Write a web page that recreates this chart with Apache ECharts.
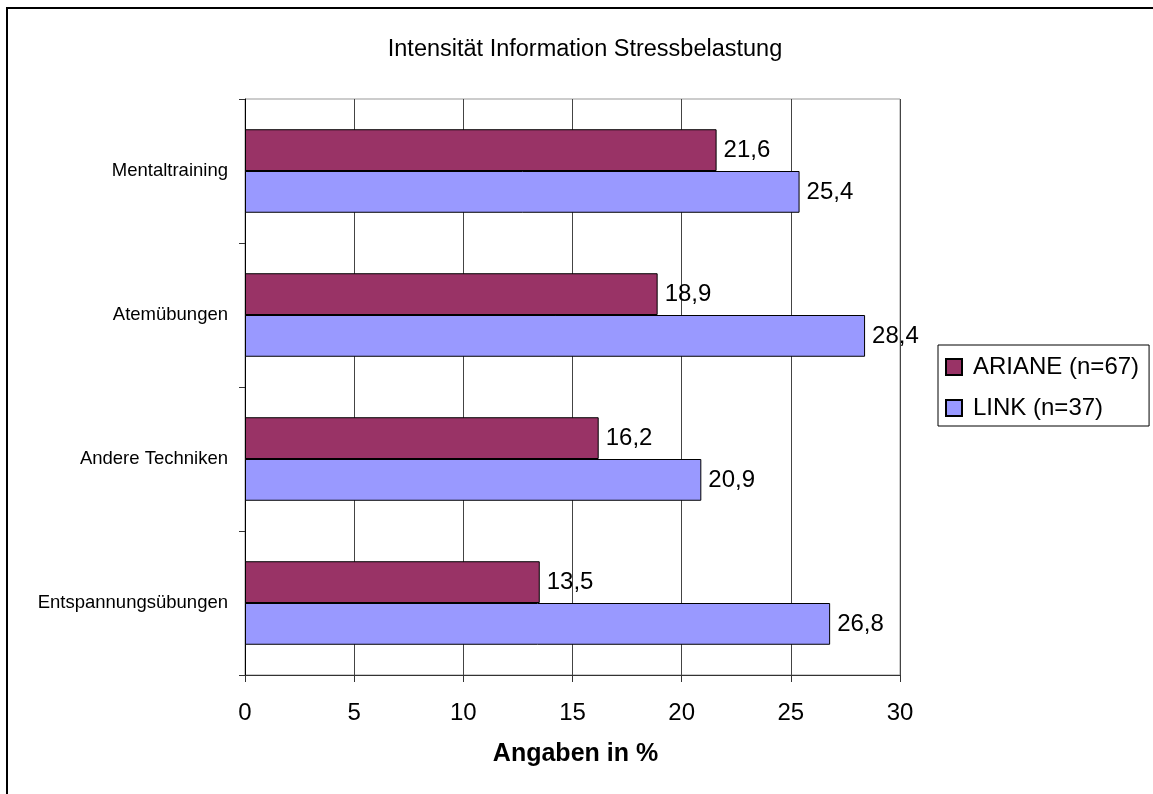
<!DOCTYPE html>
<html>
<head>
<meta charset="utf-8">
<script src="https://cdn.jsdelivr.net/npm/echarts@6/dist/echarts.min.js"></script>
<style>
  html, body { margin: 0; padding: 0; background: #fff; }
  #chart { width: 1153px; height: 794px; }
</style>
</head>
<body>
<div id="chart"></div>
<script>
// Techniques, listed top to bottom
const categories = ['Mentaltraining', 'Atemübungen', 'Andere Techniken', 'Entspannungsübungen'];
const seriesNames = ['ARIANE (n=67)', 'LINK (n=37)'];
const arianeValues = [21.6, 18.9, 16.2, 13.5];
const linkValues = [25.4, 28.4, 20.9, 26.8];
const xTicks = [0, 5, 10, 15, 20, 25, 30];

const FONT = '"Liberation Sans", Arial, sans-serif';
const fmt = v => String(v).replace('.', ',');

const chart = echarts.init(document.getElementById('chart'), null, { renderer: 'canvas' });

const barLabel = {
  show: true,
  position: 'right',
  distance: 7,
  color: '#000',
  fontFamily: FONT,
  fontSize: 24,
  formatter: p => fmt(p.value)
};

chart.setOption({
  backgroundColor: '#fff',
  animation: false,
  title: {
    text: 'Intensität Information Stressbelastung',
    left: 580,
    top: 33,
    textAlign: 'center',
    textStyle: { fontFamily: FONT, fontSize: 23.5, fontWeight: 'normal', color: '#000' }
  },
  legend: {
    data: seriesNames,
    orient: 'vertical',
    left: 938,
    top: 345,
    padding: [10, 10, 6, 7],
    itemGap: 17,
    itemWidth: 16,
    itemHeight: 16,
    borderColor: '#000',
    borderWidth: 1,
    icon: 'rect',
    textStyle: { fontFamily: FONT, fontSize: 24, lineHeight: 24, color: '#000', padding: [0, 0, 0, 6] }
  },
  grid: {
    left: 245,
    right: 253,
    top: 99,
    bottom: 119,
    show: true,
    borderColor: '#999',
    borderWidth: 1
  },
  xAxis: {
    type: 'value',
    min: xTicks[0],
    max: xTicks[xTicks.length - 1],
    interval: 5,
    name: 'Angaben in %',
    nameLocation: 'middle',
    nameGap: 67,
    nameTextStyle: { fontFamily: FONT, fontSize: 25, fontWeight: 'bold', color: '#000', padding: [0, 0, 0, 6] },
    axisLine: { show: true, lineStyle: { color: '#333', width: 1 } },
    axisTick: { show: true, length: 7, lineStyle: { color: '#333' } },
    axisLabel: { fontFamily: FONT, fontSize: 24, color: '#000', margin: 26 },
    splitLine: { show: true, lineStyle: { color: '#444', width: 1 } }
  },
  yAxis: {
    type: 'category',
    data: categories,
    inverse: true,
    axisLine: { show: true, lineStyle: { color: '#000', width: 1 } },
    axisTick: { show: true, length: 6, lineStyle: { color: '#333' } },
    axisLabel: { fontFamily: FONT, fontSize: 18.5, color: '#000', margin: 17 }
  },
  series: [
    {
      name: seriesNames[0],
      type: 'bar',
      data: arianeValues,
      barCategoryGap: '42%',
      barGap: '0%',
      itemStyle: { color: '#993366', borderColor: '#000', borderWidth: 1 },
      label: barLabel
    },
    {
      name: seriesNames[1],
      type: 'bar',
      data: linkValues,
      barCategoryGap: '42%',
      barGap: '0%',
      itemStyle: { color: '#9999FF', borderColor: '#000', borderWidth: 1 },
      label: barLabel
    }
  ],
  graphic: [
    {
      // frame edge along the left and top of the chart area
      type: 'polyline',
      shape: { points: [[7, 794], [7, 8], [1153, 8]] },
      style: { fill: 'none', stroke: '#000', lineWidth: 2 },
      silent: true,
      z: 100
    }
  ]
});
</script>
</body>
</html>
